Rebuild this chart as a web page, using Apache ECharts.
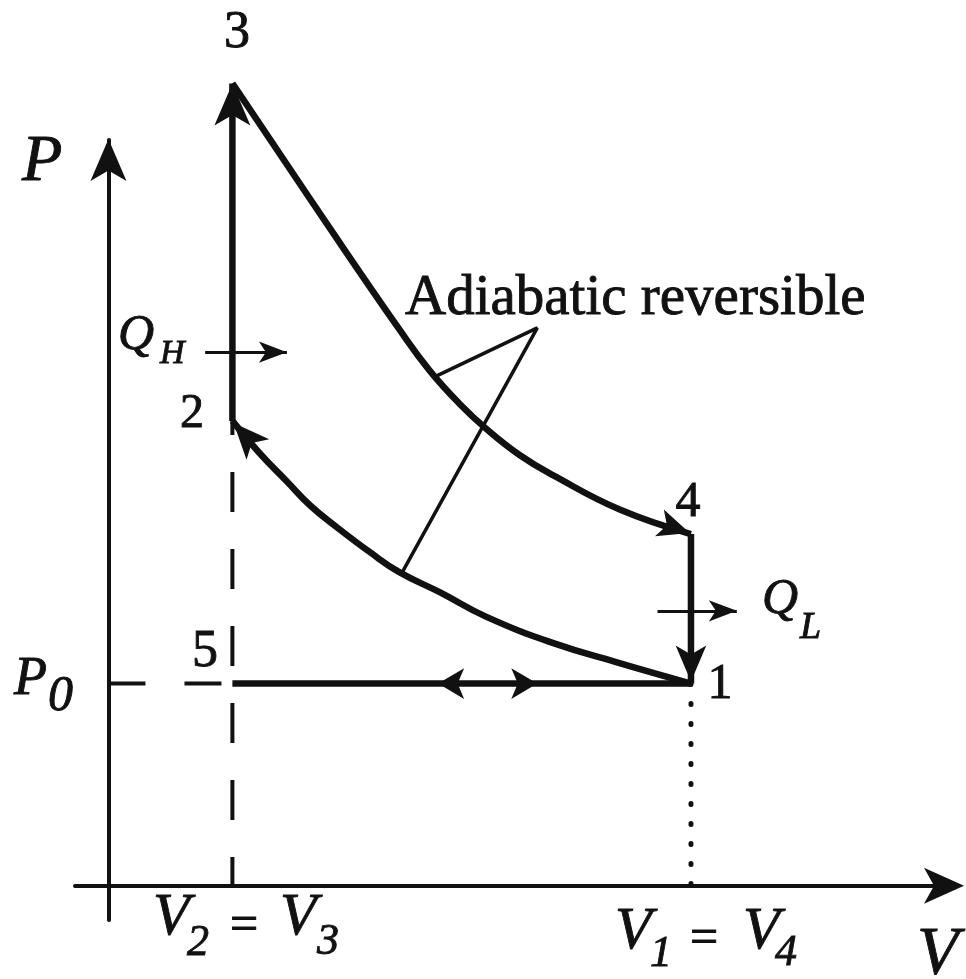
<!DOCTYPE html>
<html lang="en">
<head>
    <meta charset="UTF-8">
    <title>Otto cycle P-V</title>
    <script src="https://cdn.jsdelivr.net/npm/echarts@6/dist/echarts.min.js"></script>
</head>
<style>
    html,body{
        padding: 0;
        margin: 0;
        background: #fff;
    }
</style>
<body>
<div id="pv" style="width: 966px;height:979px;"></div>
</body>
<script type="text/javascript">
    // state points 1..5 (V, P)
    var stateV = [4.7, 1.0, 1.0, 4.7, 1.0];
    var stateP = [1.0, 2.30, 3.97, 1.74, 1.0];

    // adiabatic compression, lower curve (from 2 down to 1)
    var compV = [1.0, 1.22, 1.44, 1.63, 1.85, 2.11, 2.35, 2.68, 3.05, 3.59, 4.13, 4.7];
    var compP = [2.30, 2.14, 2.0, 1.88, 1.77, 1.65, 1.55, 1.45, 1.33, 1.20, 1.10, 1.0];

    // adiabatic expansion, upper curve (from 3 down to 4)
    var expV = [1.0, 1.79, 2.35, 2.59, 2.84, 3.05, 3.32, 3.59, 4.13, 4.7];
    var expP = [3.97, 3.25, 2.75, 2.55, 2.38, 2.26, 2.13, 2.03, 1.86, 1.74];

    // leader lines of the "Adiabatic reversible" note: apex, foot on upper curve, foot on lower curve
    var noteV = [3.46, 2.64, 2.37];
    var noteP = [2.76, 2.52, 1.55];

    // arrows on the 5-1 line (tips), and the heat arrows [from V, to V, at P]
    var flowTipV = [2.66, 3.46];
    var qH = [0.78, 1.44, 2.64];
    var qL = [4.43, 5.07, 1.36];

    var INK = '#111';
    var xMin = -0.27, xMax = 6.79, yMin = -0.17, yMax = 3.69;
    var pxX = 875 / (xMax - xMin), pxY = 780 / (yMax - yMin);

    function pts(vs, ps) {
        return vs.map(function (v, i) { return [v, ps[i]]; });
    }
    function st(i) { return [stateV[i], stateP[i]]; }

    // arrow head with its tip on `tip`, pointing away from `from`
    function head(tip, from, w, h) {
        var dx = (tip[0] - from[0]) * pxX, dy = (tip[1] - from[1]) * pxY;
        var len = Math.sqrt(dx * dx + dy * dy);
        var ux = dx / len, uy = dy / len;
        return [
            {coord: [tip[0] - ux * h / pxX, tip[1] - uy * h / pxY]},
            {coord: tip, symbolSize: [w, h]}
        ];
    }

    function plain(data, width, extra) {
        var s = {
            type: 'line', data: data, symbol: 'none', showSymbol: false,
            clip: false, silent: true, z: 3,
            lineStyle: {color: INK, width: width}
        };
        for (var k in extra) s[k] = extra[k];
        return s;
    }

    var serif = "'Liberation Serif', 'DejaVu Serif', serif";
    function txt(t, x, y, size, italic, align) {
        return {
            type: 'text', x: x, y: y, z: 10, silent: true,
            style: {
                text: t, fill: INK,
                font: (italic ? 'italic ' : '') + size + 'px ' + serif,
                textAlign: align || 'left', align: align || 'left',
                textVerticalAlign: 'middle', verticalAlign: 'middle',
                stroke: INK, lineWidth: 0.9
            }
        };
    }

    var arrows = [
        head([4.69, 1.745], [4.13, 1.86], 21, 32),
        head([4.7, 1.01], st(3), 23, 36),
        head([1.01, 2.29], [1.44, 2.0], 23, 36),
        head([flowTipV[0], 1], [3.0, 1], 23, 26),
        head([flowTipV[1], 1], [3.0, 1], 23, 26)
    ];
    var heatArrows = [
        [{coord: [qH[0], qH[2]]}, {coord: [qH[1], qH[2]], symbolSize: [16, 28]}],
        [{coord: [qL[0], qL[2]]}, {coord: [qL[1], qL[2]], symbolSize: [16, 28]}]
    ];

    var myChart = echarts.init(document.getElementById('pv'));
    var option = {
        animation: false,
        backgroundColor: '#fff',
        grid: {left: 75, right: 16, top: 140, bottom: 59},
        xAxis: {
            type: 'value', min: xMin, max: xMax,
            axisLine: {onZero: true, symbol: ['none', 'arrow'], symbolSize: [27, 40], symbolOffset: [0, 14],
                lineStyle: {color: INK, width: 4}},
            axisTick: {show: false}, axisLabel: {show: false}, splitLine: {show: false}
        },
        yAxis: {
            type: 'value', min: yMin, max: yMax,
            axisLine: {onZero: true, symbol: ['none', 'arrow'], symbolSize: [27, 42], symbolOffset: [0, 1],
                lineStyle: {color: INK, width: 4}},
            axisTick: {show: false}, axisLabel: {show: false}, splitLine: {show: false}
        },
        series: [
            plain([st(1), [1, 0]], 4, {lineStyle: {color: INK, width: 4, type: [40, 37], dashOffset: 26}}),
            plain([[0, 1], st(4)], 4, {lineStyle: {color: INK, width: 4, type: [37, 39]}}),
            plain([st(0), [4.7, 0]], 5, {lineStyle: {color: INK, width: 5, type: [1, 19], cap: 'round'}}),
            plain(pts(compV, compP), 6.5, {smooth: 0.45}),
            plain(pts(expV, expP), 6.5, {smooth: 0.45}),
            // 2 -> 3, heat added at constant volume, arrow head sits on state 3
            plain([st(1), {value: st(2), symbol: 'arrow', symbolSize: [27, 42]}], 6.5, {
                showSymbol: true, itemStyle: {color: INK, borderWidth: 0}
            }),
            plain([st(3), st(0)], 6.5),
            plain([st(4), st(0)], 6.5),
            plain([[noteV[1], noteP[1]], [noteV[0], noteP[0]], [noteV[2], noteP[2]]], 3.5),
            {
                type: 'line', data: [], symbol: 'none', clip: false, silent: true, z: 4,
                itemStyle: {color: INK},
                markLine: {
                    silent: true, animation: false,
                    symbol: ['none', 'arrow'],
                    label: {show: false},
                    lineStyle: {color: INK, width: 3, type: 'solid'},
                    itemStyle: {color: INK},
                    emphasis: {disabled: true},
                    data: arrows.concat(heatArrows)
                }
            }
        ],
        graphic: [
            txt('3', 237, 33, 52, false, 'center'),
            txt('P', 22, 163, 66, true),
            txt('Q', 118, 336, 50, true),
            txt('H', 160, 354, 34, true),
            txt('2', 192, 414, 48, false, 'center'),
            txt('Adiabatic reversible', 405, 299, 57, false),
            txt('4', 688, 503, 50, false, 'center'),
            txt('Q', 762, 600, 50, true),
            txt('L', 800, 628, 38, true),
            txt('5', 205, 652, 52, false, 'center'),
            txt('1', 720, 685, 50, false, 'center'),
            txt('P', 14, 680, 54, true),
            txt('0', 48, 697, 50, true),
            txt('V', 153, 918, 60, true),
            txt('2', 187, 943, 44, true),
            txt('=', 244, 927, 50, false, 'center'),
            txt('V', 280, 918, 60, true),
            txt('3', 317, 942, 44, true),
            txt('V', 615, 932, 60, true),
            txt('1', 650, 954, 44, true),
            txt('=', 704, 940, 50, false, 'center'),
            txt('V', 743, 932, 60, true),
            txt('4', 775, 953, 44, true),
            txt('V', 917, 955, 68, true)
        ]
    };
    myChart.setOption(option);
</script>
</html>
